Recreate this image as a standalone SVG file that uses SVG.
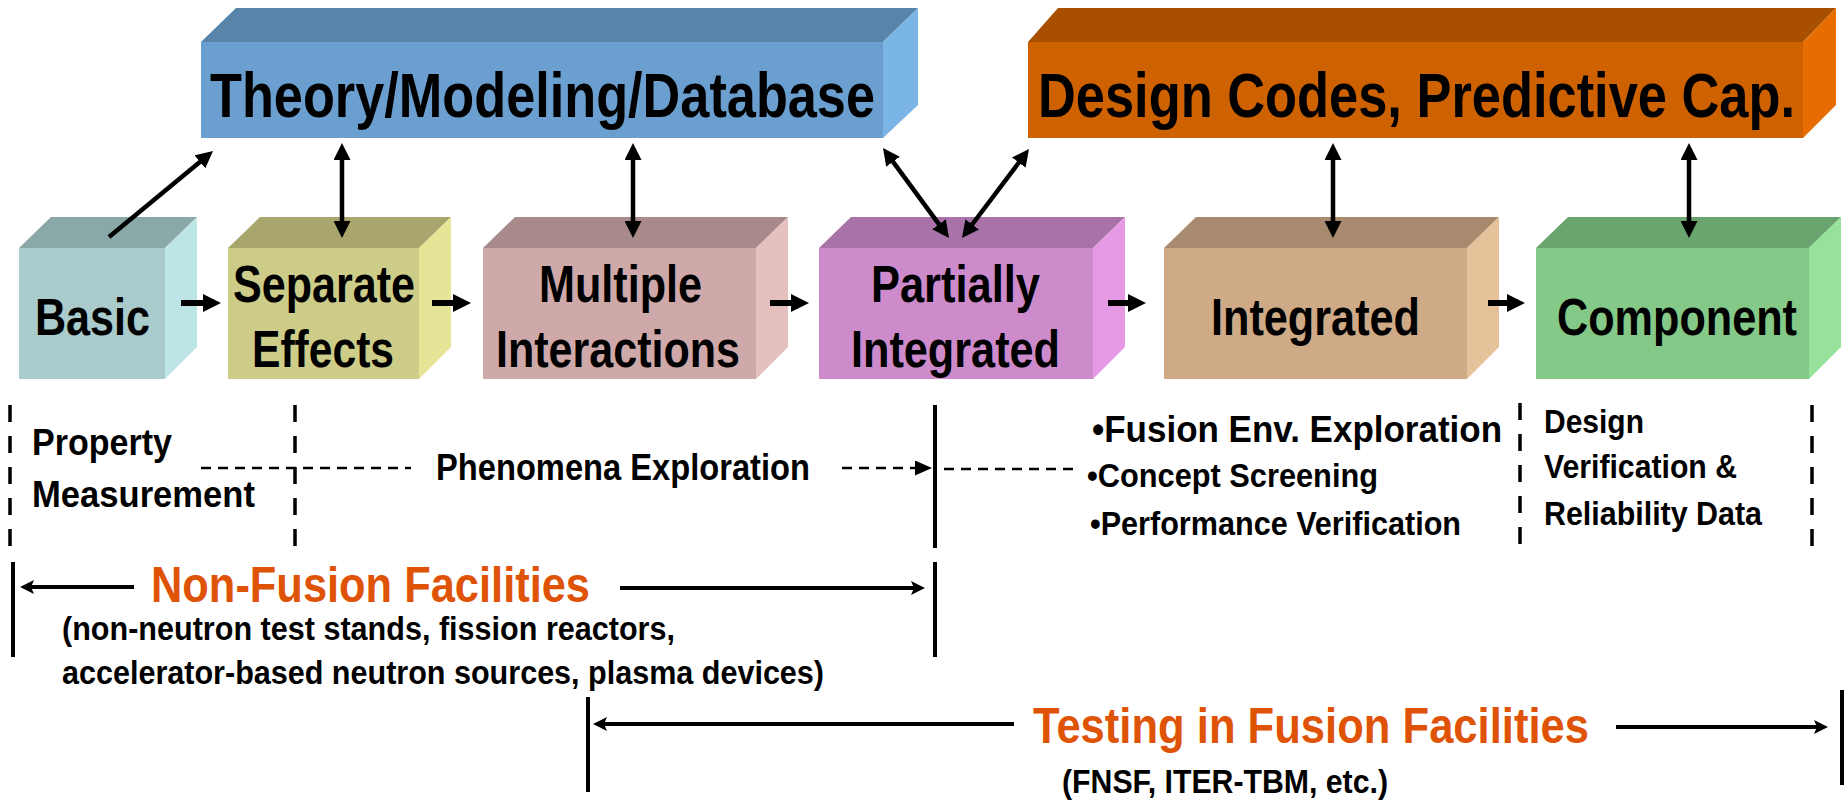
<svg xmlns="http://www.w3.org/2000/svg" width="1848" height="800" viewBox="0 0 1848 800">
<style>
text{font-family:"Liberation Sans",Arial,sans-serif;font-weight:bold;fill:#000}
.bl{font-size:52px}
.hd{font-size:63px}
.sm{font-size:37px}
.xs{font-size:34px}
.or{font-size:50px;fill:#DF5307}
.th{stroke:#000;stroke-width:6;fill:none}
.tn{stroke:#000;stroke-width:4.5;fill:none}
.bt{stroke:#000;stroke-width:4;fill:none}
.dv{stroke:#000;stroke-width:3.5;stroke-dasharray:17 14;fill:none}
.dh{stroke:#000;stroke-width:2.5;stroke-dasharray:10 7;fill:none}
</style>
<defs>
<marker id="ah" markerUnits="userSpaceOnUse" markerWidth="18" markerHeight="18" refX="8" refY="9" orient="auto-start-reverse"><path d="M0,0 L18,9 L0,18 z" fill="#000"/></marker>
<marker id="ah2" markerUnits="userSpaceOnUse" markerWidth="17" markerHeight="17" refX="7" refY="8.5" orient="auto-start-reverse"><path d="M0,0 L17,8.5 L0,17 z" fill="#000"/></marker>
<marker id="ab" markerUnits="userSpaceOnUse" markerWidth="14" markerHeight="14" refX="4" refY="7" orient="auto-start-reverse"><path d="M0,0 L14,7 L0,14 L3,7 z" fill="#000"/></marker>
<marker id="ad" markerUnits="userSpaceOnUse" markerWidth="17" markerHeight="15" refX="7" refY="7.5" orient="auto"><path d="M0,0 L17,7.5 L0,15 z" fill="#000"/></marker>
<marker id="abl" markerUnits="userSpaceOnUse" markerWidth="24" markerHeight="24" refX="14" refY="12" orient="auto"><path d="M0,0 L24,12 L0,24 z" fill="#3C41A0"/></marker>
<filter id="sh" x="-10%" y="-50%" width="130%" height="250%"><feGaussianBlur in="SourceAlpha" stdDeviation="2"/><feOffset dx="2" dy="3"/><feComponentTransfer><feFuncA type="linear" slope="0.35"/></feComponentTransfer><feMerge><feMergeNode/><feMergeNode in="SourceGraphic"/></feMerge></filter>
</defs>

<g id="theory">
<polygon points="201,42 236,8 918,8 883,42" fill="#5884AA"/>
<polygon points="883,42 918,8 918,105 883,138" fill="#7BB5E6"/>
<rect x="201" y="42" width="682" height="96" fill="#6A9FCF"/>
<text class="hd" x="210" y="117" textLength="665" lengthAdjust="spacingAndGlyphs">Theory/Modeling/Database</text>
</g>

<g id="design">
<polygon points="1028,42 1058,8 1836,8 1803,42" fill="#A85000"/>
<polygon points="1803,42 1836,8 1836,105 1803,138" fill="#E86D00"/>
<rect x="1028" y="42" width="775" height="96" fill="#CE6100"/>
<text class="hd" transform="translate(1038,117) scale(0.8317,1)" x="0" y="0">Design Codes, Predictive Cap.</text>
</g>

<g id="basic">
<polygon points="19,248 51,217 197,217 165,248" fill="#8BA8A9"/>
<polygon points="165,248 197,217 197,347 165,379" fill="#BDE5E6"/>
<rect x="19" y="248" width="146" height="131" fill="#AACBCC"/>
<text class="bl" x="35" y="335" textLength="115" lengthAdjust="spacingAndGlyphs">Basic</text>
</g>

<g id="separate">
<polygon points="228,248 260,217 451,217 419,248" fill="#A8A66D"/>
<polygon points="419,248 451,217 451,347 419,379" fill="#E5E497"/>
<rect x="228" y="248" width="191" height="131" fill="#CDCC89"/>
<text class="bl" x="233" y="302" textLength="182" lengthAdjust="spacingAndGlyphs">Separate</text>
<text class="bl" x="252" y="367" textLength="142" lengthAdjust="spacingAndGlyphs">Effects</text>
</g>

<g id="multiple">
<polygon points="483,248 515,217 788,217 756,248" fill="#A88A8A"/>
<polygon points="756,248 788,217 788,347 756,379" fill="#E6BFBF"/>
<rect x="483" y="248" width="273" height="131" fill="#CFA9A9"/>
<text class="bl" x="539" y="302" textLength="163" lengthAdjust="spacingAndGlyphs">Multiple</text>
<text class="bl" x="496" y="367" textLength="244" lengthAdjust="spacingAndGlyphs">Interactions</text>
</g>

<g id="partially">
<polygon points="819,248 851,217 1125,217 1093,248" fill="#A972A8"/>
<polygon points="1093,248 1125,217 1125,347 1093,379" fill="#E69AE6"/>
<rect x="819" y="248" width="274" height="131" fill="#CD8BCC"/>
<text class="bl" x="871" y="302" textLength="169" lengthAdjust="spacingAndGlyphs">Partially</text>
<text class="bl" x="851" y="367" textLength="209" lengthAdjust="spacingAndGlyphs">Integrated</text>
</g>

<g id="integrated">
<polygon points="1164,248 1196,217 1499,217 1467,248" fill="#A88B6E"/>
<polygon points="1467,248 1499,217 1499,347 1467,379" fill="#E6C29A"/>
<rect x="1164" y="248" width="303" height="131" fill="#CFAA86"/>
<text class="bl" x="1211" y="335" textLength="209" lengthAdjust="spacingAndGlyphs">Integrated</text>
</g>

<g id="component">
<polygon points="1536,248 1568,217 1841,217 1809,248" fill="#6AA46E"/>
<polygon points="1809,248 1841,217 1841,347 1809,379" fill="#97E29A"/>
<rect x="1536" y="248" width="273" height="131" fill="#84C988"/>
<text class="bl" x="1557" y="335" textLength="240" lengthAdjust="spacingAndGlyphs">Component</text>
</g>

<g id="connectors">
<line x1="899" y1="77" x2="1004" y2="77" stroke="#3C41A0" stroke-width="8" marker-end="url(#abl)" filter="url(#sh)"/>
<line class="th" x1="181" y1="303" x2="211" y2="303" marker-end="url(#ah)"/>
<line class="th" x1="432" y1="303" x2="461" y2="303" marker-end="url(#ah)"/>
<line class="th" x1="770" y1="303" x2="799" y2="303" marker-end="url(#ah)"/>
<line class="th" x1="1108" y1="303" x2="1136" y2="303" marker-end="url(#ah)"/>
<line class="th" x1="1488" y1="303" x2="1515" y2="303" marker-end="url(#ah)"/>
<line class="tn" x1="109" y1="237" x2="205.3" y2="157.4" marker-end="url(#ah2)"/>
<line class="tn" x1="342" y1="153" x2="342" y2="228" marker-start="url(#ah2)" marker-end="url(#ah2)"/>
<line class="tn" x1="633" y1="153" x2="633" y2="228" marker-start="url(#ah2)" marker-end="url(#ah2)"/>
<line class="tn" x1="888.9" y1="156.1" x2="943.1" y2="229.9" marker-start="url(#ah2)" marker-end="url(#ah2)"/>
<line class="tn" x1="968" y1="230" x2="1023" y2="157" marker-start="url(#ah2)" marker-end="url(#ah2)"/>
<line class="tn" x1="1333" y1="153" x2="1333" y2="228" marker-start="url(#ah2)" marker-end="url(#ah2)"/>
<line class="tn" x1="1689" y1="153" x2="1689" y2="228" marker-start="url(#ah2)" marker-end="url(#ah2)"/>
</g>

<g id="phases">
<line class="dv" x1="10" y1="405" x2="10" y2="548"/>
<line class="dv" x1="295" y1="405" x2="295" y2="548"/>
<line class="bt" x1="935" y1="405" x2="935" y2="548"/>
<line class="dv" x1="1520" y1="403" x2="1520" y2="545"/>
<line class="dv" x1="1812" y1="405" x2="1812" y2="548"/>
<line class="dh" x1="201" y1="468" x2="411" y2="468"/>
<line class="dh" x1="842" y1="468" x2="922" y2="468" marker-end="url(#ad)"/>
<line class="dh" x1="944" y1="469" x2="1075" y2="469"/>
<text class="sm" x="32" y="455" textLength="140" lengthAdjust="spacingAndGlyphs">Property</text>
<text class="sm" x="32" y="507" textLength="223" lengthAdjust="spacingAndGlyphs">Measurement</text>
<text class="sm" x="436" y="480" textLength="374" lengthAdjust="spacingAndGlyphs">Phenomena Exploration</text>
<text class="sm" x="1092" y="442" textLength="410" lengthAdjust="spacingAndGlyphs">•Fusion Env. Exploration</text>
<text class="xs" x="1087" y="487" textLength="291" lengthAdjust="spacingAndGlyphs">•Concept Screening</text>
<text class="xs" x="1090" y="535" textLength="371" lengthAdjust="spacingAndGlyphs">•Performance Verification</text>
<text class="xs" x="1544" y="433" textLength="100" lengthAdjust="spacingAndGlyphs">Design</text>
<text class="xs" x="1544" y="478" textLength="193" lengthAdjust="spacingAndGlyphs">Verification &amp;</text>
<text class="xs" x="1544" y="525" textLength="218" lengthAdjust="spacingAndGlyphs">Reliability Data</text>
</g>

<g id="nonfusion">
<line class="bt" x1="13" y1="562" x2="13" y2="657"/>
<line class="bt" x1="935" y1="562" x2="935" y2="657"/>
<line class="bt" x1="134" y1="587" x2="30" y2="587" marker-end="url(#ab)"/>
<line class="bt" x1="620" y1="588" x2="915" y2="588" marker-end="url(#ab)"/>
<text class="or" x="151" y="602" textLength="439" lengthAdjust="spacingAndGlyphs">Non-Fusion Facilities</text>
<text class="xs" x="62" y="640" textLength="613" lengthAdjust="spacingAndGlyphs">(non-neutron test stands, fission reactors,</text>
<text class="xs" x="62" y="684" textLength="762" lengthAdjust="spacingAndGlyphs">accelerator-based neutron sources, plasma devices)</text>
</g>

<g id="fusion">
<line class="bt" x1="588" y1="697" x2="588" y2="792"/>
<line class="bt" x1="1842" y1="690" x2="1842" y2="785"/>
<line class="bt" x1="1014" y1="724" x2="603" y2="724" marker-end="url(#ab)"/>
<line class="bt" x1="1616" y1="727" x2="1818" y2="727" marker-end="url(#ab)"/>
<text class="or" x="1033" y="743" textLength="556" lengthAdjust="spacingAndGlyphs">Testing in Fusion Facilities</text>
<text class="xs" x="1062" y="793" textLength="326" lengthAdjust="spacingAndGlyphs">(FNSF, ITER-TBM, etc.)</text>
</g>
</svg>
